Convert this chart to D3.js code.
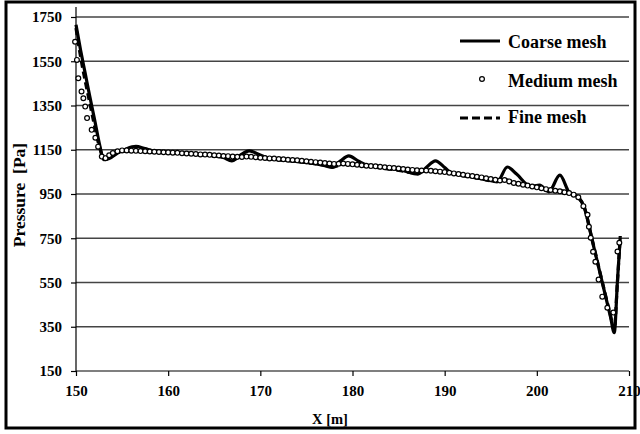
<!DOCTYPE html>
<html>
<head>
<meta charset="utf-8">
<script src="https://cdn.jsdelivr.net/npm/d3@7/dist/d3.min.js"></script>
<style>
  html, body { margin: 0; padding: 0; background: #fff; }
  svg { display: block; }
  text { font-family: "Liberation Serif", "Times New Roman", serif; font-weight: bold; fill: #000; }
</style>
</head>
<body>
<svg id="chart" width="640" height="434"></svg>
<script>
// Pressure along the channel for three mesh resolutions
const yTicks = [150, 350, 550, 750, 950, 1150, 1350, 1550, 1750];
const xTicks = [150, 160, 170, 180, 190, 200, 210];

const coarseX = [150, 150.5, 151, 151.5, 152, 152.6, 153, 153.6, 154.5, 155.5, 156.5, 157.5, 158.5, 160, 162, 164, 166, 166.9, 167.8, 168.8, 169.8, 171, 173, 175, 177, 177.8, 178.7, 179.6, 180.6, 181.6, 183.5, 185.5, 187.1, 188, 189, 190, 190.6, 192.5, 194.5, 195.7, 196.8, 197.8, 199.3, 200.3, 201.3, 202.5, 203.5, 204.5, 205.15, 206, 207, 208, 208.4, 208.75, 209.05];
const coarseP = [1715, 1600, 1495, 1390, 1290, 1165, 1105, 1110, 1135, 1155, 1165, 1155, 1145, 1140, 1135, 1128, 1115, 1100, 1125, 1145, 1130, 1110, 1102, 1092, 1078, 1070, 1100, 1122, 1100, 1080, 1070, 1055, 1040, 1070, 1100, 1070, 1048, 1030, 1015, 1005, 1072, 1040, 985, 990, 960, 1035, 958, 935, 890, 742, 568, 394, 323, 560, 755];

const mediumX = [149.9, 150.1, 150.25, 150.6, 150.8, 151, 151.2, 151.7, 152.1, 152.4, 152.8, 153.2, 153.6, 154, 154.5, 155, 155.5, 156, 156.5, 157, 157.5, 158, 158.5, 159, 159.5,
  160, 160.5, 161, 161.5, 162, 162.5, 163, 163.5, 164, 164.5, 165, 165.5, 166, 166.5, 167, 167.5, 168, 168.5, 169, 169.5,
  170, 170.5, 171, 171.5, 172, 172.5, 173, 173.5, 174, 174.5, 175, 175.5, 176, 176.5, 177, 177.5, 178, 178.5, 179, 179.5,
  180, 180.5, 181, 181.5, 182, 182.5, 183, 183.5, 184, 184.5, 185, 185.5, 186, 186.5, 187, 187.5, 188, 188.5, 189, 189.5,
  190, 190.5, 191, 191.5, 192, 192.5, 193, 193.5, 194, 194.5, 195, 195.5, 196, 196.5, 197, 197.5, 198, 198.5, 199, 199.5,
  200, 200.5, 201, 201.5, 202, 202.5, 203, 203.5, 204, 204.5, 205.05, 205.5, 205.65, 205.85, 206.1, 206.35, 206.7, 207.1, 207.65, 208.3,
  208.75, 208.95];
const mediumP = [1638, 1556, 1473, 1413, 1383, 1345, 1293, 1240, 1204, 1164, 1119, 1112, 1125, 1135, 1143, 1147, 1147, 1146, 1145, 1144, 1143, 1142, 1141, 1140, 1139,
  1138, 1137, 1136, 1134, 1133, 1132, 1131, 1129, 1128, 1127, 1125, 1124, 1122, 1121, 1119, 1118, 1117, 1119, 1118, 1116,
  1114, 1113, 1111, 1110, 1108, 1107, 1105, 1104, 1102, 1100, 1098, 1096, 1094, 1092, 1090, 1088, 1086, 1087, 1088, 1086,
  1084, 1082, 1080, 1078, 1076, 1075, 1073, 1071, 1069, 1067, 1065, 1063, 1061, 1059, 1057, 1056, 1056, 1055, 1053, 1051,
  1049, 1046, 1043, 1040, 1037, 1034, 1031, 1028, 1025, 1021, 1018, 1014, 1011, 1013, 1007, 1000, 996, 992, 988, 984,
  980, 976, 972, 968, 965, 962, 958, 954, 947, 935, 895, 856, 802, 752, 689, 644, 563, 486, 436, 414,
  690, 730];

const fineX = [150, 150.5, 151, 151.5, 152, 152.5, 153, 153.5, 154.5, 156, 158, 160, 162, 164, 166, 167, 168, 170, 172, 174, 176, 178, 179, 181, 183, 185, 187, 188, 190, 192, 194, 195.5, 196.5, 198, 199.5, 200.5, 201.5, 202.5, 203.5, 204.5, 205.1, 206, 207, 208, 208.4, 208.7, 209.05];
const fineP = [1700, 1570, 1460, 1360, 1260, 1170, 1115, 1120, 1138, 1145, 1140, 1137, 1132, 1125, 1116, 1105, 1120, 1112, 1105, 1097, 1087, 1073, 1085, 1078, 1068, 1057, 1045, 1058, 1048, 1033, 1018, 1008, 1015, 995, 985, 975, 965, 965, 955, 935, 895, 745, 570, 400, 335, 520, 760];

const svg = d3.select("#chart");
const plotL = 76, plotR = 629, plotT = 17, plotB = 371;

const x = d3.scaleLinear().domain([150, 210]).range([plotL, plotR]);
const y = d3.scaleLinear().domain([150, 1750]).range([plotB, plotT]);

// outer frame
svg.append("rect")
  .attr("x", 6).attr("y", 2).attr("width", 629).attr("height", 426)
  .attr("fill", "none").attr("stroke", "#000").attr("stroke-width", 3);

// horizontal gridlines
svg.append("g").selectAll("line")
  .data(yTicks.filter(d => d > 150))
  .join("line")
  .attr("x1", plotL).attr("x2", plotR)
  .attr("y1", d => y(d)).attr("y2", d => y(d))
  .attr("stroke", "#444").attr("stroke-width", 1.3);

// y axis
const yAxis = svg.append("g")
  .attr("transform", `translate(${plotL},0)`)
  .call(d3.axisLeft(y).tickValues(yTicks).tickSize(5).tickPadding(9).tickFormat(d3.format("d")));
yAxis.select(".domain").remove();
yAxis.append("line").attr("x1", 0).attr("x2", 0).attr("y1", 7).attr("y2", plotB)
  .attr("stroke", "#000").attr("stroke-width", 1.2);
yAxis.selectAll(".tick line").attr("stroke", "#000").attr("stroke-width", 1.2);
yAxis.selectAll(".tick text").attr("font-size", 15)
  .style("font-family", "Liberation Serif").style("font-weight", "bold").attr("fill", "#000");

// x axis
const xAxis = svg.append("g")
  .attr("transform", `translate(0,${plotB})`)
  .call(d3.axisBottom(x).tickValues(xTicks).tickSize(5).tickPadding(9).tickFormat(d3.format("d")));
xAxis.select(".domain").attr("stroke", "#000").attr("stroke-width", 1.2).attr("d", `M${plotL},0H${plotR}`);
xAxis.selectAll(".tick line").attr("stroke", "#000").attr("stroke-width", 1.2);
xAxis.selectAll(".tick text").attr("font-size", 15)
  .style("font-family", "Liberation Serif").style("font-weight", "bold").attr("fill", "#000");

// axis titles
svg.append("text")
  .attr("x", 330).attr("y", 424)
  .attr("text-anchor", "middle").attr("font-size", 14.5)
  .text("X [m]");
svg.append("text")
  .attr("transform", "translate(25,195) rotate(-90)")
  .attr("text-anchor", "middle").attr("font-size", 17.5)
  .attr("xml:space", "preserve")
  .text("Pressure  [Pa]");

// series
const line = d3.line().x(d => x(d[0])).y(d => y(d[1])).curve(d3.curveMonotoneX);
const coarse = coarseX.map((v, i) => [v, coarseP[i]]);
const medium = mediumX.map((v, i) => [v, mediumP[i]]);
const fine = fineX.map((v, i) => [v, fineP[i]]);

svg.append("path").datum(coarse).attr("d", line)
  .attr("fill", "none").attr("stroke", "#000").attr("stroke-width", 3.2).attr("stroke-linejoin", "round");

svg.append("path").datum(fine).attr("d", line)
  .attr("fill", "none").attr("stroke", "#000").attr("stroke-width", 3.2).attr("stroke-dasharray", "7,4");

svg.append("g").selectAll("circle").data(medium).join("circle")
  .attr("cx", d => x(d[0])).attr("cy", d => y(d[1])).attr("r", 2.4)
  .attr("fill", "#fff").attr("stroke", "#000").attr("stroke-width", 1.2);

// legend
const legend = svg.append("g");
legend.append("line").attr("x1", 460).attr("x2", 500).attr("y1", 41).attr("y2", 41)
  .attr("stroke", "#000").attr("stroke-width", 3);
legend.append("text").attr("x", 508).attr("y", 48).attr("font-size", 18).text("Coarse mesh");
legend.append("circle").attr("cx", 482).attr("cy", 79).attr("r", 2.4)
  .attr("fill", "#fff").attr("stroke", "#000").attr("stroke-width", 1.2);
legend.append("text").attr("x", 508).attr("y", 87).attr("font-size", 18).text("Medium mesh");
legend.append("line").attr("x1", 460).attr("x2", 500).attr("y1", 118).attr("y2", 118)
  .attr("stroke", "#000").attr("stroke-width", 3).attr("stroke-dasharray", "8,4");
legend.append("text").attr("x", 508).attr("y", 123).attr("font-size", 18).text("Fine mesh");
</script>
</body>
</html>
